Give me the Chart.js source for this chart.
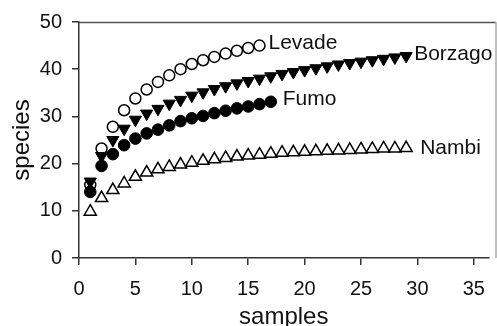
<!DOCTYPE html>
<html lang="en">
<head>
    <meta charset="UTF-8">
    <title>Species accumulation</title>
    <script src="https://cdn.jsdelivr.net/npm/chart.js"></script>
    <style>
        html, body { margin: 0; padding: 0; background: #fff; overflow: hidden; }
        .wrap { width: 497px; height: 326px; position: relative; }
    </style>
</head>
<body>
    <div class="wrap">
        <canvas id="curvas"></canvas>
    </div>

<script>
  // Valores (species por número de amostras)
  const levade  = [15.5, 23.2, 27.8, 31.3, 33.8, 35.7, 37.3, 38.7, 40.0, 41.1, 41.9, 42.6, 43.3, 43.9, 44.5, 45.0];
  const borzago = [16.2, 21.6, 25.0, 27.4, 29.3, 30.6, 31.6, 32.7, 33.5, 34.4, 35.1, 35.8, 36.4, 37.0, 37.5,
                   38.0, 38.5, 39.0, 39.4, 39.8, 40.2, 40.6, 41.0, 41.3, 41.6, 41.9, 42.2, 42.5, 42.8];
  const fumo    = [14.0, 19.5, 22.0, 23.9, 25.3, 26.4, 27.2, 28.1, 29.0, 29.6, 30.1, 30.7, 31.2, 31.7, 32.1, 32.6, 33.1];
  const nambi   = [9.8, 12.7, 14.4, 15.8, 17.2, 18.1, 18.8, 19.3, 19.8, 20.2, 20.6, 20.9, 21.2, 21.5, 21.7,
                   21.9, 22.1, 22.3, 22.4, 22.5, 22.6, 22.7, 22.8, 22.9, 23.0, 23.1, 23.2, 23.2, 23.3];

  const xTicks = [0, 5, 10, 15, 20, 25, 30, 35];
  const yTicks = [0, 10, 20, 30, 40, 50];

  // amostra n = posição + 1
  const pontos = (serie) => serie.map((v, i) => ({ x: i + 1, y: v }));

  // nome de cada curva escrito ao lado do último ponto
  const rotulos = [
    { texto: 'Levade',  serie: levade,  dx: 9,  dy: -2 },
    { texto: 'Borzago', serie: borzago, dx: 8,  dy: -2 },
    { texto: 'Fumo',    serie: fumo,    dx: 12, dy: -3 },
    { texto: 'Nambi',   serie: nambi,   dx: 14, dy: 0 }
  ];

  const pluginRotulos = {
    id: 'rotulos',
    beforeDatasetsDraw(chart) {
      // moldura de cima e da direita (cinza)
      const { ctx, chartArea } = chart;
      const dir = chart.width - 1;
      ctx.save();
      ctx.lineWidth = 1.5;
      ctx.strokeStyle = '#555';
      ctx.beginPath();
      ctx.moveTo(chartArea.left, chartArea.top + 0.5);
      ctx.lineTo(dir, chartArea.top + 0.5);
      ctx.stroke();
      ctx.strokeStyle = '#aaa';
      ctx.beginPath();
      ctx.moveTo(dir, chartArea.top);
      ctx.lineTo(dir, chartArea.bottom);
      ctx.stroke();
      ctx.restore();
    },
    afterDatasetsDraw(chart) {
      const { ctx, scales } = chart;
      ctx.save();
      ctx.font = '21px "Liberation Sans", Arial, sans-serif';
      ctx.fillStyle = '#111';
      ctx.textBaseline = 'middle';
      ctx.textAlign = 'left';
      rotulos.forEach(r => {
        const n = r.serie.length;
        const px = scales.x.getPixelForValue(n);
        const py = scales.y.getPixelForValue(r.serie[n - 1]);
        ctx.fillText(r.texto, px + r.dx, py + r.dy);
      });
      ctx.restore();
    }
  };

  const fonteTick = { family: '"Liberation Sans", Arial, sans-serif', size: 20 };
  const fonteTitulo = { family: '"Liberation Sans", Arial, sans-serif', size: 24, lineHeight: 1 };

  new Chart(document.getElementById('curvas'), {
    type: 'scatter',
    data: {
      datasets: [
        {
          label: 'Fumo',
          data: pontos(fumo),
          pointStyle: 'circle',
          pointRadius: 5.8,
          backgroundColor: '#000',
          borderColor: '#000',
          borderWidth: 1
        },
        {
          label: 'Borzago',
          data: pontos(borzago),
          pointStyle: 'triangle',
          rotation: 180,
          pointRadius: 7,
          backgroundColor: '#000',
          borderColor: '#000',
          borderWidth: 1
        },
        {
          label: 'Levade',
          data: pontos(levade),
          pointStyle: 'circle',
          pointRadius: 5.5,
          backgroundColor: '#fff',
          borderColor: '#000',
          borderWidth: 1.5
        },
        {
          label: 'Nambi',
          data: pontos(nambi),
          pointStyle: 'triangle',
          pointRadius: 7,
          backgroundColor: '#fff',
          borderColor: '#000',
          borderWidth: 1.5
        }
      ]
    },
    options: {
      responsive: true,
      maintainAspectRatio: false,
      animation: false,
      layout: { padding: { top: 21, right: 0, bottom: 0, left: 0 } },
      plugins: {
        legend: { display: false },
        tooltip: { enabled: false }
      },
      scales: {
        x: {
          type: 'linear',
          min: 0,
          max: 36.3,
          afterBuildTicks: (s) => { s.ticks = xTicks.map(v => ({ value: v })); },
          afterFit: (s) => { s.height = 68; s.paddingLeft = 0; s.paddingRight = 0; },
          ticks: { font: fonteTick, color: '#111', padding: 12, maxRotation: 0 },
          grid: { drawOnChartArea: false, drawTicks: true, tickLength: 7, color: '#333', lineWidth: 1.5 },
          border: { display: true, color: '#333', width: 1.5 },
          title: { display: true, text: 'samples', font: fonteTitulo, color: '#111', padding: { top: 0, bottom: -3 } }
        },
        y: {
          min: 0,
          max: 50,
          afterBuildTicks: (s) => { s.ticks = yTicks.map(v => ({ value: v })); },
          afterFit: (s) => { s.width = 79; },
          ticks: { font: fonteTick, color: '#111', padding: 10 },
          grid: { drawOnChartArea: false, drawTicks: true, tickLength: 7, color: '#333', lineWidth: 1.5 },
          border: { display: true, color: '#333', width: 1.5 },
          title: { display: true, text: 'species', font: fonteTitulo, color: '#111', padding: { top: 10, bottom: 0 } }
        }
      }
    },
    plugins: [pluginRotulos]
  });
</script>
</body>
</html>
